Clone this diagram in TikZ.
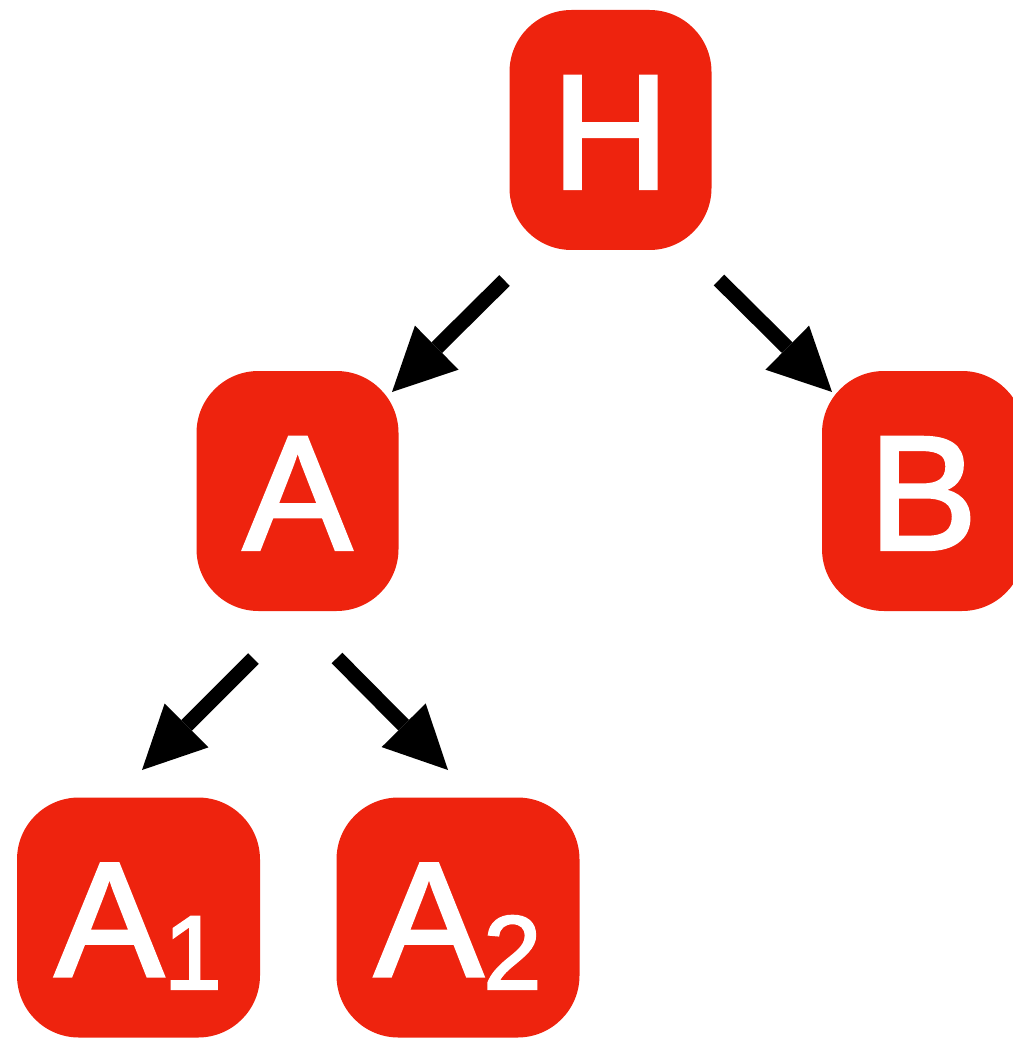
\documentclass[tikz,border=0pt]{standalone}
\usepackage{fontspec}
\setmainfont{Liberation Sans}
\newfontfamily\boxfont[FakeBold=2]{Liberation Sans}
\usetikzlibrary{arrows.meta}
\definecolor{boxred}{RGB}{238,35,14}
\newcommand\subdig[1]{\raisebox{-13pt}{\fontsize{105}{105}\selectfont #1}}
\begin{document}
\begin{tikzpicture}[x=1pt,y=-1pt,
 box/.style={fill=boxred, rounded corners=62pt, minimum height=240pt, inner sep=0pt, text=white,
   font=\boxfont\fontsize{163}{163}\selectfont, text height=117pt, text depth=0pt},
 narrow/.style={box, minimum width=202pt},
 wide/.style={box, minimum width=243pt},
 arr/.style={line width=15pt, -{Triangle[length=63pt,width=62pt,line width=0pt]}}]
\useasboundingbox (0,0) rectangle (1012,1040);
\node[narrow] (H) at (610.5,130) {H};
\node[narrow] (A) at (297.5,491) {A};
\node[narrow] (B) at (923,491) {B};
\node[wide] (A1) at (138.5,917.5) {A\subdig{1}};
\node[wide] (A2) at (458,917.5) {A\subdig{2}};
\coordinate (tHA) at (504.5,280.5); \coordinate (pHA) at (392,392);
\coordinate (tHB) at (719,280);     \coordinate (pHB) at (832,392);
\coordinate (tA1) at (253.5,658.5); \coordinate (pA1) at (142,770);
\coordinate (tA2) at (337,658);     \coordinate (pA2) at (448,770);
\draw[arr] (tHA) -- (pHA);
\draw[arr] (tHB) -- (pHB);
\draw[arr] (tA1) -- (pA1);
\draw[arr] (tA2) -- (pA2);
\end{tikzpicture}
\end{document}
